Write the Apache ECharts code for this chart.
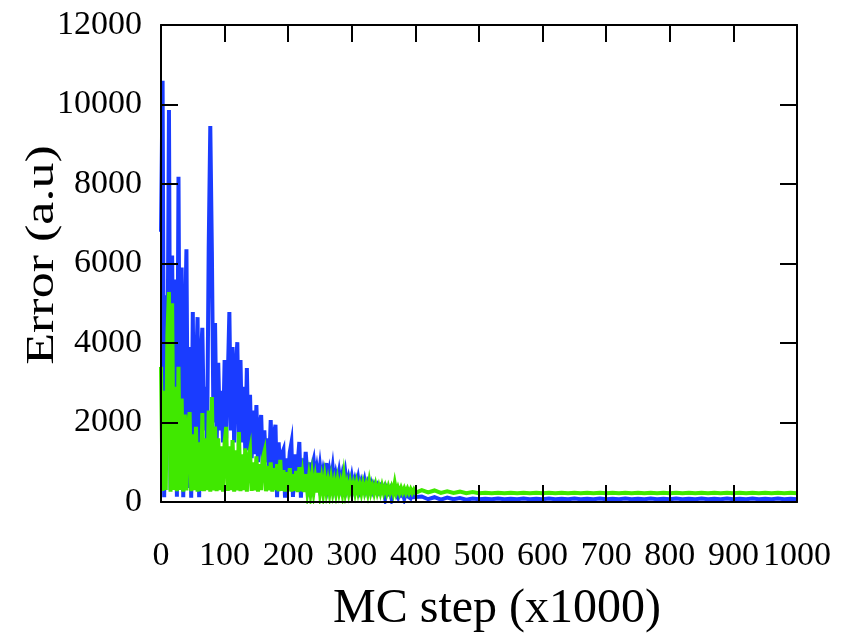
<!DOCTYPE html>
<html><head><meta charset="utf-8">
<script src="https://cdn.jsdelivr.net/npm/echarts@6/dist/echarts.min.js"></script>
<style>html,body{margin:0;padding:0;background:#fff}#c{width:845px;height:642px}</style>
</head><body><div id="c"></div>
<script>
// Sampling grid (MC step, x1000): every 2.5 up to 400, then every 10 up to 1000
const mcStep = [];
for (let i = 0; i <= 160; i++) mcStep.push(i * 2.5);
for (let i = 1; i <= 60; i++) mcStep.push(400 + i * 10);

const xTickLabels = [0,100,200,300,400,500,600,700,800,900,1000];
const yTickLabels = [0,2000,4000,6000,8000,10000,12000];

// Blue series, MC step 0..400
const blueEarly = [
 6800,10600,120,5200,2500,9860,300,6200,1500,5600,
 130,8180,400,5900,120,4200,6360,350,3900,110,
 4780,300,3300,4650,120,3600,4380,1800,2900,1500,
 6400,9460,6300,2000,4500,1500,3500,1800,2800,1500,
 3570,1600,3100,4780,1800,3900,1500,3300,4020,1400,
 3570,1500,2900,1300,3370,1300,2700,1100,2300,1200,
 2440,1000,1900,2190,900,1800,1000,1600,900,2060,
 800,1700,1940,120,1500,800,1200,1310,110,1100,
 700,1250,1480,130,1200,700,1000,1510,110,1100,
 600,1260,700,1000,120,900,1060,600,850,550,
 900,550,800,600,980,500,780,550,860,450,
 700,500,750,450,680,450,720,400,600,400,
 630,380,560,400,600,350,520,380,550,330,
 480,350,470,300,430,320,410,280,380,280,
 360,100,330,240,320,90,290,220,270,100,
 250,180,240,80,220,150,200,90,180,120,
 170
];
// Blue series, MC step 410..1000
const blueLate = [
 140,70,120,60,110,70,100,60,90,70,
 80,70,90,70,80,70,90,70,80,70,
 90,70,80,70,90,70,80,70,90,70,
 80,70,90,70,80,70,90,70,80,70,
 90,70,80,70,90,70,80,70,90,70,
 80,70,90,70,80,70,90,70,80,70
];
// Green series, MC step 0..400
const greenEarly = [
 3400,280,2800,300,4200,5280,260,5000,300,2900,
 270,3400,300,2600,260,2200,290,1900,2260,270,
 1700,300,1890,260,1500,280,2240,270,1600,300,
 2300,260,2640,290,1900,270,1600,300,1400,260,
 1500,1890,280,1400,300,1560,260,1300,290,1760,
 270,1200,300,1350,260,1100,1310,280,1000,290,
 1150,260,950,300,1100,1260,270,900,290,1000,
 260,850,300,950,270,1060,280,800,260,750,
 290,850,260,700,280,780,250,880,270,650,
 250,700,280,620,250,650,270,580,240,730,
 260,560,240,600,270,520,240,560,260,500,
 240,530,260,480,240,630,250,460,240,480,
 250,450,240,470,250,430,230,450,250,420,
 230,500,250,400,230,420,240,390,230,400,
 240,380,230,380,240,370,230,470,240,360,
 230,350,240,340,230,330,230,320,230,310,
 230
];
// Green series, MC step 410..1000
const greenLate = [
 300,240,290,230,270,230,260,220,250,220,
 230,220,230,220,230,220,230,220,230,220,
 230,220,230,220,230,220,230,220,230,220,
 230,220,230,220,230,220,230,220,230,220,
 230,220,230,220,230,220,230,220,230,220,
 230,220,230,220,230,220,230,220,230,220
];

const blue = blueEarly.concat(blueLate);
const green = greenEarly.concat(greenLate);
const blueData = mcStep.map((x, i) => [x, blue[i]]);
const greenData = mcStep.map((x, i) => [x, green[i]]);

const FONT = '"Liberation Serif", "Times New Roman", serif';
const axisLineStyle = { color: '#000', width: 2 };
const tickStyle = { inside: true, length: 17, lineStyle: { color: '#000', width: 2 } };

const chart = echarts.init(document.getElementById('c'), null, { renderer: 'canvas' });
chart.setOption({
  animation: false,
  backgroundColor: '#fff',
  grid: { left: 161, right: 48, top: 25, bottom: 140, containLabel: false },
  xAxis: [
    { type: 'value', min: 0, max: 1000, interval: 100, position: 'bottom', z: 10,
      axisLine: { onZero: false, lineStyle: axisLineStyle }, axisTick: tickStyle,
      splitLine: { show: false },
      axisLabel: { fontFamily: FONT, fontSize: 34, color: '#000', margin: 37,
        formatter: v => xTickLabels.includes(v) ? String(v) : '' } },
    { type: 'value', min: 0, max: 1000, interval: 100, position: 'top', z: 10,
      axisLine: { onZero: false, lineStyle: axisLineStyle }, axisTick: tickStyle,
      splitLine: { show: false }, axisLabel: { show: false } }
  ],
  yAxis: [
    { type: 'value', min: 0, max: 12000, interval: 2000, position: 'left', z: 10,
      axisLine: { onZero: false, lineStyle: axisLineStyle }, axisTick: tickStyle,
      splitLine: { show: false },
      axisLabel: { fontFamily: FONT, fontSize: 34, color: '#000', margin: 19,
        formatter: v => yTickLabels.includes(v) ? String(v) : '' } },
    { type: 'value', min: 0, max: 12000, interval: 2000, position: 'right', z: 10,
      axisLine: { onZero: false, lineStyle: axisLineStyle }, axisTick: tickStyle,
      splitLine: { show: false }, axisLabel: { show: false } }
  ],
  series: [
    { type: 'line', name: 'blue', data: blueData, xAxisIndex: 0, yAxisIndex: 0,
      showSymbol: false, symbol: 'none', sampling: null, z: 2,
      lineStyle: { color: '#1a3cff', width: 4, join: 'miter' } },
    { type: 'line', name: 'green', data: greenData, xAxisIndex: 0, yAxisIndex: 0,
      showSymbol: false, symbol: 'none', sampling: null, z: 3,
      lineStyle: { color: '#40e800', width: 4, join: 'miter' } }
  ],
  graphic: [
    { type: 'text', x: 497, y: 609, z: 20,
      style: { text: 'MC step (x1000)', fontFamily: FONT, fontSize: 48, fill: '#000',
        align: 'center', verticalAlign: 'middle' } },
    { type: 'text', x: 42, y: 255, rotation: Math.PI / 2, scaleX: 1.3, z: 20,
      style: { text: 'Error (a.u)', fontFamily: FONT, fontSize: 40, fill: '#000',
        align: 'center', verticalAlign: 'middle' } }
  ]
});
</script>
</body></html>
